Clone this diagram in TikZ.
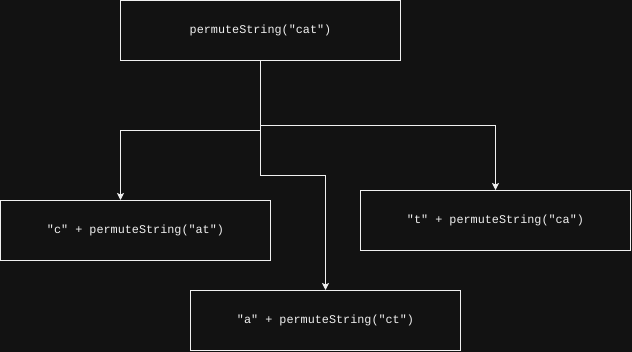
\documentclass[tikz,border=0pt]{standalone}
\usepackage{fontspec}
\setmonofont{Liberation Mono}
\usetikzlibrary{arrows.meta,positioning}
\definecolor{bg}{HTML}{121212}
\definecolor{ink}{HTML}{F0F0F0}
\tikzset{
  box/.style={draw=ink, fill=bg, line width=1pt, minimum width=270pt,
              minimum height=60pt, inner sep=0pt, text=ink,
              font=\fontsize{11.8}{14}\ttfamily},
  ar/.style={-{Stealth[length=7pt,width=7pt,inset=1.5pt]}, line width=1pt, draw=ink}
}
\begin{document}
\begin{tikzpicture}[x=1pt,y=-1pt]
  \fill[bg] (0,0) rectangle (632,352);
  \useasboundingbox (0,0) rectangle (632,352);

  \node[box, minimum width=280pt] (cat) at (260.5,30.5) {permuteString("cat")};
  \node[box] (c) at (135.5,230.5) {"c" + permuteString("at")};
  \node[box] (t) at (495.5,220.5) {"t" + permuteString("ca")};
  \node[box] (a) at (325.5,320.5) {"a" + permuteString("ct")};

  % bends of the three branches
  \coordinate (cbend) at (260.5,130.5);
  \coordinate (tbend) at (260.5,125.5);
  \coordinate (abend) at (260.5,175.5);

  \draw[ar] (cat.south) -- (cbend) -| ([xshift=-15pt]c.north);
  \draw[ar] (cat.south) -- (tbend) -| (t.north);
  \draw[ar] (cat.south) -- (abend) -| (a.north);
\end{tikzpicture}
\end{document}
